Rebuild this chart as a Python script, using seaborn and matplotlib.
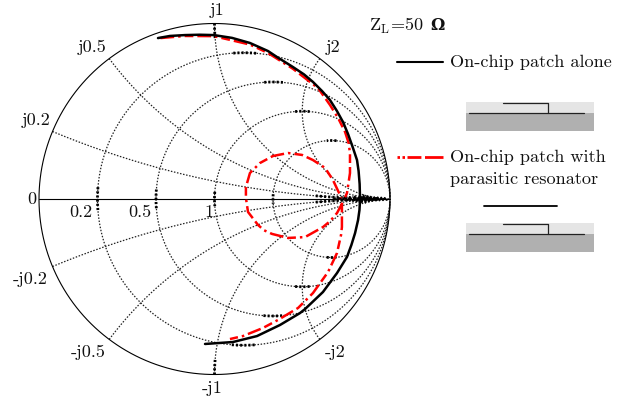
import numpy as np
import matplotlib
matplotlib.use("Agg")
import matplotlib.pyplot as plt
from matplotlib.patches import Rectangle
import seaborn as sns

patch_re = [-0.322, -0.254, -0.168, -0.085, -0.003, 0.100, 0.202, 0.305, 0.356, 0.447, 0.510, 0.561, 0.613, 0.658,
            0.698, 0.732, 0.761, 0.789, 0.812, 0.821, 0.827, 0.829, 0.829, 0.826, 0.818, 0.801, 0.780, 0.755, 0.698,
            0.618, 0.516, 0.487, 0.373, 0.242, 0.105, -0.054]
patch_im = [0.917, 0.929, 0.934, 0.936, 0.934, 0.918, 0.889, 0.843, 0.809, 0.752, 0.710, 0.667, 0.615, 0.564,
            0.501, 0.439, 0.370, 0.291, 0.222, 0.160, 0.085, 0.011, -0.011, -0.063, -0.120, -0.194, -0.262, -0.330,
            -0.422, -0.530, -0.627, -0.650, -0.718, -0.781, -0.815, -0.826]

# Fine ripple along the real axis, close to the open circuit point
ripple_re = [0.68, 0.70, 0.71, 0.73, 0.74, 0.76, 0.77, 0.79, 0.80, 0.81, 0.83, 0.84, 0.85, 0.86, 0.87,
             0.88, 0.89, 0.90, 0.91, 0.92, 0.93, 0.94, 0.95, 0.96, 0.97, 0.98, 0.99]
ripple_im = [0.004, -0.004, 0.006, -0.006, 0.008, -0.008, 0.012, -0.012, 0.015, -0.015, 0.020, -0.020, 0.022,
             -0.022, 0.018, -0.016, 0.014, -0.012, 0.011, -0.010, 0.010, -0.009, 0.009, -0.008, 0.007, -0.006, 0.0]

patch_res_re = [-0.308, -0.168, -0.003, 0.202, 0.305, 0.447, 0.590, 0.658, 0.704, 0.744, 0.764, 0.772, 0.772,
                0.755, 0.732, 0.698, 0.660, 0.618, 0.516, 0.419, 0.328, 0.282, 0.248, 0.191, 0.179, 0.179, 0.202,
                0.259, 0.333, 0.419, 0.499, 0.561, 0.630, 0.675, 0.715, 0.726, 0.726, 0.726, 0.721, 0.698,
                0.647, 0.561, 0.476, 0.362, 0.276, 0.162, 0.088]
patch_res_im = [0.917, 0.929, 0.928, 0.880, 0.832, 0.742, 0.632, 0.536, 0.462, 0.382, 0.320, 0.262, 0.148,
                0.034, -0.017, -0.080, -0.125, -0.160, -0.217, -0.222, -0.199, -0.178, -0.148, -0.074, 0.006, 0.068,
                0.148, 0.205, 0.245, 0.262, 0.251, 0.222, 0.177, 0.108, 0.023, -0.034, -0.080, -0.160, -0.205, -0.308,
                -0.416, -0.536, -0.621, -0.689, -0.735, -0.781, -0.798]

# Smith chart grid values and labels
resist_vals = [0.2, 0.5, 1, 2]
react_vals = [0.2, 0.5, 1, 2]
labels_txt = ["j1", "j2", "j0.5", "j0.2", "0", "0.2", "0.5", "1", "-j0.2", "-j0.5", "-j2", "-j1"]
labels_px = [(217, 10), (333, 47), (92, 47), (36, 120), (32, 199), (81, 212), (140, 212), (209, 212),
             (30, 279), (88, 352), (335, 352), (212, 388)]

PX = 175.5  # chart radius in pixels
CX, CY = 214.5, 199
FS = 13.1


def grid_line(ax, re, im, heavy=True):
    # normal thin dots, and heavier dots where the curve runs along an axis
    sns.lineplot(x=re, y=im, sort=False, estimator=None, ax=ax, color="#222222", lw=0.9,
                 linestyle=(0, (1.2, 1.3)), dash_capstyle="butt")
    if not heavy:
        return
    dx, dy = np.gradient(re), np.gradient(im)
    flat = (np.abs(dy) < 0.085 * np.abs(dx)) | (np.abs(dx) < 0.085 * np.abs(dy))
    flat = flat & (re < 0.93)  # nothing heavy at the open circuit point
    edges = np.flatnonzero(np.diff(np.r_[0, flat.astype(int), 0]))
    for a, b in zip(edges[::2], edges[1::2]):
        if b - a > 2:
            sns.lineplot(x=re[a:b], y=im[a:b], sort=False, estimator=None, ax=ax, color="black", lw=2.0,
                         linestyle=(0, (0.75, 0.75)), dash_capstyle="butt")


sns.set_theme(style="white")
plt.rcParams["font.family"] = ["cmr10", "DejaVu Serif"]
plt.rcParams["mathtext.fontset"] = "cm"
plt.rcParams["axes.formatter.use_mathtext"] = True

fig = plt.figure(figsize=(6.19, 3.98), dpi=100)
ax = fig.add_axes([0, 0, 1, 1])

# Constant resistance circles
for r in resist_vals:
    t = np.linspace(0.02, 2 * np.pi - 0.02, 1500)
    grid_line(ax, r / (r + 1) + np.cos(t) / (r + 1), np.sin(t) / (r + 1))

# Constant reactance arcs
for x in react_vals:
    rr = np.tan(np.linspace(0, 1.56, 1500))
    for sign in [1, -1]:
        gamma = (rr + 1j * sign * x - 1) / (rr + 1j * sign * x + 1)
        grid_line(ax, gamma.real, gamma.imag, heavy=x != 2)

# Outer circle and real axis
t = np.linspace(0, 2 * np.pi, 600)
sns.lineplot(x=np.cos(t), y=np.sin(t), sort=False, estimator=None, ax=ax, color="black", lw=0.8)
sns.lineplot(x=[-1, 1], y=[0, 0], sort=False, estimator=None, ax=ax, color="black", lw=0.8)

# Measured curves
red_style = (0, (5.5, 1.6, 1, 1.6, 3.5, 1.6))
sns.lineplot(x=patch_res_re, y=patch_res_im, sort=False, estimator=None, ax=ax, color="red", lw=1.8,
             linestyle=red_style, dash_capstyle="butt")
sns.lineplot(x=patch_re, y=patch_im, sort=False, estimator=None, ax=ax, color="black", lw=1.8)
sns.lineplot(x=ripple_re, y=ripple_im, sort=False, estimator=None, ax=ax, color="black", lw=1.2)

ax.set_xlim(-CX / PX, (619 - CX) / PX)
ax.set_ylim((CY - 398) / PX, CY / PX)
ax.axis("off")

# Overlay in pixel units for the labels, the key and the little sketches
ov = fig.add_axes([0, 0, 1, 1], facecolor="none")
ov.set_xlim(0, 619)
ov.set_ylim(398, 0)
ov.axis("off")

for txt, (px, py) in zip(labels_txt, labels_px):
    ov.text(px, py, txt, fontsize=FS, ha="center", va="center", color="#111111")

ov.text(369, 26, r"$\mathrm{Z}_{\mathrm{L}}$=50", fontsize=FS, va="center", color="#111111")
ov.text(430, 25, "\u03a9", fontsize=11.5, va="center", color="#111111", family="DejaVu Serif", weight="bold")

# Key
ov.plot([397, 443], [62, 62], color="black", lw=1.5)
ov.plot([397, 443], [157, 157], color="red", lw=2, linestyle=(0, (0.9, 0.9, 0.9, 0.9, 5, 1.3, 8, 1)),
        dash_capstyle="butt")
ov.text(450, 62, "On-chip patch alone", fontsize=FS, va="center", color="#111111")
ov.text(450, 157, "On-chip patch with", fontsize=FS, va="center", color="#111111")
ov.text(450, 179, "parasitic resonator", fontsize=FS, va="center", color="#111111")

# Cross section sketches
for dy in [0, 120.5]:
    ov.add_patch(Rectangle((466, 102 + dy), 128, 11, color="#e5e5e5", lw=0))
    ov.add_patch(Rectangle((466, 113 + dy), 128, 18, color="#b0b0b0", lw=0))
    ov.plot([469, 584], [113 + dy, 113 + dy], color="#222222", lw=0.9)
    ov.plot([503, 548, 548], [103 + dy, 103 + dy, 113 + dy], color="#222222", lw=0.9)
ov.plot([484, 557], [205.5, 205.5], color="black", lw=1.3)

fig.savefig("out.png", dpi=100)
